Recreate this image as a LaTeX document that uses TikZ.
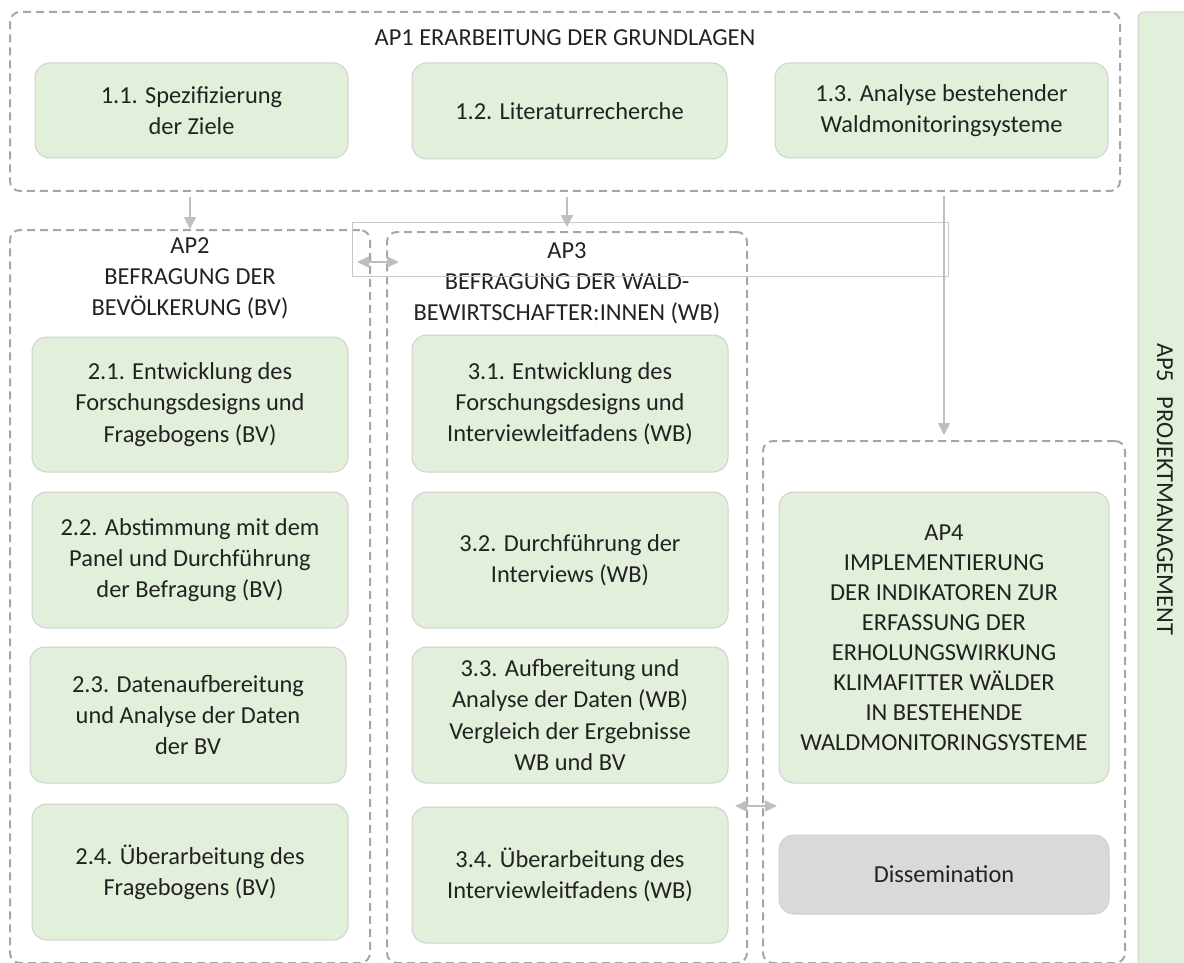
\documentclass[tikz,border=0pt]{standalone}
\usepackage{fontspec}
\setmainfont{Carlito}
\usetikzlibrary{arrows.meta}
\definecolor{gfill}{HTML}{E2EFDA}
\definecolor{dgray}{HTML}{A6A6A6}
\definecolor{agray}{HTML}{BFBFBF}
\definecolor{bgray}{HTML}{D0D0D0}
\definecolor{rgray}{HTML}{C8C8C8}
\definecolor{dissfill}{HTML}{D9D9D9}
\definecolor{txt}{HTML}{222222}
\begin{document}
\begin{tikzpicture}[x=0.5pt,y=-0.5pt,
  font=\fontsize{12.2}{15.6}\selectfont, text=txt,
  wbox/.style={rounded corners=7.5pt, fill=gfill, draw=bgray, line width=0.5pt, align=center, inner sep=0pt},
  dbox/.style={wbox, fill=dissfill},
  grp/.style={draw=dgray, line width=1pt, dash pattern=on 4pt off 2.5pt, rounded corners=5pt, inner sep=0pt},
  ttl/.style={align=center, inner sep=0pt},
  arr/.style={draw=agray, line width=0.8pt, -{Triangle[length=6pt,width=6pt]}},
  darr/.style={draw=agray, line width=0.8pt, {Triangle[length=6pt,width=5.5pt]}-{Triangle[length=6pt,width=5.5pt]}},
  rectline/.style={draw=rgray, line width=0.5pt},
]
\useasboundingbox (0,0) rectangle (1184,963);

% AP5 bar
\filldraw[fill=gfill, draw=bgray, line width=0.5pt, rounded corners=3pt] (1138,990) rectangle (1200,12);
\node[ttl, rotate=-90] (ap5) at (1165,489) {AP5\hspace{0.6em}PROJEKTMANAGEMENT};

% group boxes
\node[grp, minimum width=555pt, minimum height=89.5pt] (ap1) at (565,101.5) {};
\node[grp, minimum width=180pt, minimum height=366.5pt] (ap2) at (190,596.5) {};
\node[grp, minimum width=180pt, minimum height=365.5pt] (ap3) at (567,597.5) {};
\node[grp, minimum width=181pt, minimum height=261pt] (ap4) at (944,702) {};

% titles
\node[ttl] (t1) at (565,38) {AP1 ERARBEITUNG DER GRUNDLAGEN};
\node[ttl] (t2) at (190,278) {AP2\\BEFRAGUNG DER\\BEVÖLKERUNG (BV)};
\node[ttl] (t3) at (567,283) {AP3\\BEFRAGUNG DER WALD-\\BEWIRTSCHAFTER:INNEN (WB)};

% AP1 tasks
\node[wbox, minimum width=156.5pt, minimum height=47.5pt] (b11) at (191.5,110.5) {1.1. Spezifizierung\\der Ziele};
\node[wbox, minimum width=157.5pt, minimum height=48pt] (b12) at (569.5,111) {1.2. Literaturrecherche};
\node[wbox, minimum width=166.5pt, minimum height=47.5pt] (b13) at (941.5,110.5) {1.3. Analyse bestehender\\Waldmonitoringsysteme};

% AP2 tasks
\node[wbox, minimum width=158pt, minimum height=67.5pt] (b21) at (190,404.5) {2.1. Entwicklung des\\Forschungsdesigns und\\Fragebogens (BV)};
\node[wbox, minimum width=158pt, minimum height=68pt] (b22) at (190,560) {2.2. Abstimmung mit dem\\Panel und Durchführung\\der Befragung (BV)};
\node[wbox, minimum width=158pt, minimum height=68pt] (b23) at (188,715) {2.3. Datenaufbereitung\\und Analyse der Daten\\der BV};
\node[wbox, minimum width=158pt, minimum height=68pt] (b24) at (190,872) {2.4. Überarbeitung des\\Fragebogens (BV)};

% AP3 tasks
\node[wbox, minimum width=158pt, minimum height=68.5pt] (b31) at (570,403.5) {3.1. Entwicklung des\\Forschungsdesigns und\\Interviewleitfadens (WB)};
\node[wbox, minimum width=158pt, minimum height=68pt] (b32) at (570,560) {3.2. Durchführung der\\Interviews (WB)};
\node[wbox, minimum width=158pt, minimum height=68pt] (b33) at (570,715) {3.3. Aufbereitung und\\Analyse der Daten (WB)\\Vergleich der Ergebnisse\\WB und BV};
\node[wbox, minimum width=158pt, minimum height=68pt] (b34) at (570,875) {3.4. Überarbeitung des\\Interviewleitfadens (WB)};

% AP4 tasks
\node[wbox, minimum width=165pt, minimum height=145.5pt, font=\fontsize{12.2}{15}\selectfont] (b4) at (944,637.5) {AP4\\IMPLEMENTIERUNG\\DER INDIKATOREN ZUR\\ERFASSUNG DER\\ERHOLUNGSWIRKUNG\\KLIMAFITTER WÄLDER\\IN BESTEHENDE\\WALDMONITORINGSYSTEME};
\node[dbox, minimum width=165pt, minimum height=39.5pt] (diss) at (944,874.5) {Dissemination};

% thin frame
\coordinate (rA) at (352,222);
\coordinate (rB) at (948,276);
\draw[rectline] (rA) rectangle (rB);

% arrows
\draw[arr] ([yshift=-2.5pt]ap1.south -| ap2.north) -- (ap2.north);
\draw[arr] ([yshift=-2.5pt]ap1.south -| ap3.north) -- ([yshift=2pt]ap3.north);
\draw[arr] ([yshift=-2pt]ap1.south -| ap4.north) -- ([yshift=2.5pt]ap4.north);

\coordinate (dA) at (357,262);
\coordinate (dB) at (399,262);
\draw[darr] (dA) -- (dB);
\coordinate (dC) at (735,806);
\coordinate (dD) at (777,806);
\draw[darr] (dC) -- (dD);
\end{tikzpicture}
\end{document}
